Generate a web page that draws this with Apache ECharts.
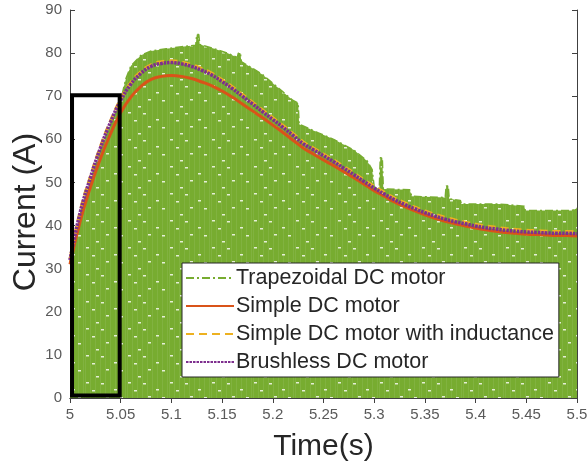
<!DOCTYPE html>
<html>
<head>
<meta charset="utf-8">
<script src="https://cdn.jsdelivr.net/npm/echarts@6/dist/echarts.min.js"></script>
<style>
  html, body { margin: 0; padding: 0; background: #ffffff; }
  #chart { width: 587px; height: 467px; }
</style>
</head>
<body>
<div id="chart"></div>
<script>
// Sample instants (s) for the smooth motor models
const sampleTime = [
  5.00, 5.01, 5.02, 5.03, 5.04, 5.05, 5.06, 5.07, 5.08, 5.09,
  5.10, 5.11, 5.12, 5.13, 5.14, 5.15, 5.16, 5.17, 5.18, 5.19,
  5.20, 5.21, 5.22, 5.23, 5.24, 5.25, 5.26, 5.27, 5.28, 5.29,
  5.30, 5.31, 5.32, 5.33, 5.34, 5.35, 5.36, 5.37, 5.38, 5.39,
  5.40, 5.41, 5.42, 5.43, 5.44, 5.45, 5.46, 5.47, 5.48, 5.49, 5.50
];

// Current (A) of the simple DC motor model
const simpleDC = [
  31.0, 41.0, 48.8, 55.5, 61.3, 66.2, 69.8, 72.3, 73.9, 74.6,
  74.8, 74.6, 74.1, 73.3, 72.4, 71.2, 69.8, 68.2, 66.6, 65.0,
  63.3, 61.6, 59.8, 58.0, 56.6, 55.2, 53.9, 52.5, 51.1, 49.6,
  48.1, 46.8, 45.5, 44.4, 43.4, 42.5, 41.7, 41.0, 40.4, 39.9,
  39.4, 39.0, 38.7, 38.4, 38.2, 38.0, 37.9, 37.8, 37.7, 37.7, 37.6
];

// Current (A) of the simple DC motor model with inductance
const inductanceDC = [
  32.2, 43.3, 51.3, 58.3, 64.3, 69.4, 73.2, 75.7, 77.3, 78.0,
  78.2, 77.9, 77.3, 76.4, 75.3, 73.8, 72.2, 70.4, 68.6, 66.8,
  65.0, 63.2, 61.3, 59.4, 58.0, 56.6, 55.2, 53.7, 52.2, 50.6,
  49.1, 47.7, 46.4, 45.3, 44.3, 43.4, 42.6, 41.9, 41.3, 40.8,
  40.3, 39.9, 39.6, 39.3, 39.1, 38.9, 38.8, 38.7, 38.6, 38.6, 38.5
];

// Current (A) of the brushless DC motor model
const brushlessDC = [
  32.0, 43.0, 51.0, 58.0, 64.0, 69.0, 72.8, 75.3, 76.9, 77.6,
  77.8, 77.5, 76.9, 76.0, 74.9, 73.4, 71.8, 70.0, 68.2, 66.4,
  64.6, 62.8, 60.9, 59.0, 57.6, 56.2, 54.8, 53.3, 51.8, 50.2,
  48.7, 47.3, 46.0, 44.9, 43.9, 43.0, 42.2, 41.5, 40.9, 40.4,
  39.9, 39.5, 39.2, 38.9, 38.7, 38.5, 38.4, 38.3, 38.2, 38.2, 38.1
];

// Switching current of the trapezoidal DC motor: peak envelope of the
// chopped waveform (it swings from 0 A up to these values)
const trapezoidTime = [
  5.000, 5.010, 5.020, 5.030, 5.040, 5.050, 5.055, 5.060, 5.070, 5.080,
  5.095, 5.110, 5.124, 5.125, 5.127, 5.128, 5.140, 5.155, 5.165, 5.166,
  5.168, 5.169, 5.180, 5.190, 5.200, 5.210, 5.220, 5.225, 5.226, 5.245,
  5.260, 5.280, 5.293, 5.298, 5.300, 5.305, 5.306, 5.308, 5.309, 5.335,
  5.337, 5.370, 5.371, 5.373, 5.374, 5.385, 5.386, 5.423, 5.424, 5.448,
  5.449, 5.495, 5.500
];
const trapezoidPeak = [
  31.5, 42.5, 50.5, 57.5, 63.5, 69.0, 74.0, 77.0, 79.5, 80.5,
  81.0, 81.5, 81.8, 84.3, 84.3, 82.0, 81.2, 80.0, 79.0, 80.0,
  80.0, 78.0, 76.5, 75.0, 73.0, 71.0, 69.0, 68.4, 63.5, 61.5,
  60.0, 57.5, 55.0, 53.0, 49.0, 48.5, 55.7, 55.7, 48.5, 48.3,
  46.8, 46.5, 49.2, 49.2, 46.2, 45.8, 45.0, 45.0, 44.6, 44.5,
  43.5, 43.5, 44.0
];

// Zoomed-in start-up window: corners as (time, current)
const windowTime = [5.002, 5.049, 5.049, 5.002, 5.002];
const windowCurrent = [0.6, 0.6, 70.2, 70.2, 0.6];

const xTickLabels = ['5', '5.05', '5.1', '5.15', '5.2', '5.25', '5.3', '5.35', '5.4', '5.45', '5.5'];
const yTickLabels = ['0', '10', '20', '30', '40', '50', '60', '70', '80', '90'];

const seriesNames = [
  'Trapezoidal DC motor',
  'Simple DC motor',
  'Simple DC motor with inductance',
  'Brushless DC motor'
];

const zip = (xs, ys) => xs.map((x, i) => [x, ys[i]]);

// Texture of the densely chopped trapezoidal current
function chopTexture() {
  const c = document.createElement('canvas');
  c.width = 42; c.height = 27;
  const g = c.getContext('2d');
  g.fillStyle = '#77AC30';
  g.fillRect(0, 0, c.width, c.height);
  g.fillStyle = 'rgba(255,255,255,0.08)';
  for (let x = 1; x < c.width; x += 5) g.fillRect(x, 0, 1, c.height);
  g.fillStyle = 'rgba(255,255,255,0.8)';
  [[2, 4], [17, 5], [30, 11], [8, 12], [22, 18], [36, 19], [12, 25]].forEach(([x, y]) => g.fillRect(x, y, 3, 1.5));
  return c;
}

const AXIS = '#404040';
const LABEL = '#5a5a5a';
const TEXT = '#262626';
const FONT = '"Liberation Sans", Arial, sans-serif';

const chart = echarts.init(document.getElementById('chart'), null, { renderer: 'canvas' });

const tickCommon = { inside: true, length: 5, lineStyle: { color: AXIS, width: 1 } };

chart.setOption({
  animation: false,
  backgroundColor: '#ffffff',
  textStyle: { fontFamily: FONT },
  grid: { left: 70, right: 10, top: 10, bottom: 69, containLabel: false, outerBoundsMode: 'none' },
  xAxis: [
    {
      type: 'value', min: 5, max: 5.5, interval: 0.05,
      name: 'Time(s)', nameLocation: 'middle', nameGap: 34, nameMoveOverlap: false,
      nameTextStyle: { fontSize: 30, color: TEXT, fontFamily: FONT },
      axisLine: { show: true, lineStyle: { color: AXIS, width: 1 } },
      axisTick: tickCommon,
      splitLine: { show: false },
      axisLabel: {
        color: LABEL, fontSize: 15, margin: 9, fontFamily: FONT,
        formatter: v => xTickLabels[Math.round((v - 5) / 0.05)]
      }
    },
    {
      type: 'value', min: 5, max: 5.5, interval: 0.05, position: 'top',
      axisLine: { show: true, lineStyle: { color: AXIS, width: 1 } },
      axisTick: tickCommon, axisLabel: { show: false }, splitLine: { show: false }
    }
  ],
  yAxis: [
    {
      type: 'value', min: 0, max: 90, interval: 10,
      name: 'Current (A)', nameLocation: 'middle', nameGap: 28, nameRotate: 90, nameMoveOverlap: false,
      nameTextStyle: { fontSize: 32, color: TEXT, fontFamily: FONT, padding: [0, 16, 0, 0] },
      axisLine: { show: true, lineStyle: { color: AXIS, width: 1 } },
      axisTick: tickCommon,
      splitLine: { show: false },
      axisLabel: {
        color: LABEL, fontSize: 15, margin: 8, fontFamily: FONT,
        formatter: v => yTickLabels[Math.round(v / 10)]
      }
    },
    {
      type: 'value', min: 0, max: 90, interval: 10, position: 'right',
      axisLine: { show: true, lineStyle: { color: AXIS, width: 1 } },
      axisTick: tickCommon, axisLabel: { show: false }, splitLine: { show: false }
    }
  ],
  legend: {
    data: seriesNames,
    orient: 'vertical',
    left: 182, top: 263,
    backgroundColor: '#ffffff',
    borderColor: TEXT, borderWidth: 1, borderRadius: 0,
    padding: [4, 5, 4, 3],
    itemWidth: 48, itemHeight: 14, itemGap: 6,
    itemStyle: { opacity: 0 },
    textStyle: { fontSize: 21.5, color: TEXT, fontFamily: FONT, padding: [0, 0, 0, -3] }
  },
  series: [
    {
      name: seriesNames[0], type: 'line', xAxisIndex: 0, yAxisIndex: 0,
      data: zip(trapezoidTime, trapezoidPeak),
      symbol: 'none', z: 1,
      lineStyle: { color: '#77AC30', width: 1.5, type: [8, 3, 2, 3] },
      itemStyle: { color: '#77AC30' },
      areaStyle: { color: { image: chopTexture(), repeat: 'repeat' }, opacity: 1 }
    },
    {
      name: seriesNames[1], type: 'line', xAxisIndex: 0, yAxisIndex: 0,
      data: zip(sampleTime, simpleDC), symbol: 'none', smooth: true, z: 3,
      lineStyle: { color: '#D95319', width: 3, type: 'solid' },
      itemStyle: { color: '#D95319' }
    },
    {
      name: seriesNames[2], type: 'line', xAxisIndex: 0, yAxisIndex: 0,
      data: zip(sampleTime, inductanceDC), symbol: 'none', smooth: true, z: 4,
      lineStyle: { color: '#EDB120', width: 3, type: [8, 5] },
      itemStyle: { color: '#EDB120' }
    },
    {
      name: seriesNames[3], type: 'line', xAxisIndex: 0, yAxisIndex: 0,
      data: zip(sampleTime, brushlessDC), symbol: 'none', smooth: true, z: 5,
      lineStyle: { color: '#7E2F8E', width: 3.5, type: [2.5, 1] },
      itemStyle: { color: '#7E2F8E' }
    },
    {
      // start-up window outline, drawn above every curve
      name: 'window', type: 'line', xAxisIndex: 0, yAxisIndex: 0,
      data: zip(windowTime, windowCurrent), z: 8, silent: true,
      symbol: 'none',
      lineStyle: { color: '#000000', width: 4, join: 'miter', cap: 'square' },
      itemStyle: { color: '#000000' }
    }
  ]
});
</script>
</body>
</html>
